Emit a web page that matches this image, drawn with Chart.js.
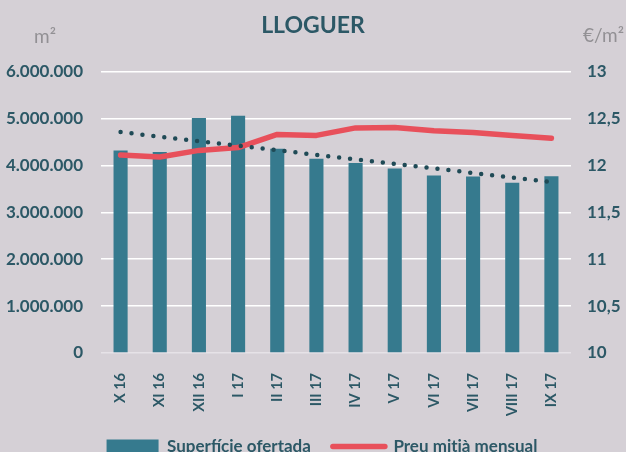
<!DOCTYPE html>
<html>
<head>
<meta charset="utf-8">
<script src="https://cdn.jsdelivr.net/npm/chart.js@4.4.1/dist/chart.umd.min.js"></script>
<style>
  html, body { margin: 0; padding: 0; background: #d5d0d6; overflow: hidden; }
  #wrap { width: 626px; height: 465px; }
</style>
</head>
<body>
<div id="wrap"><canvas id="lloguerChart"></canvas></div>
<script>
const months = ["X 16", "XI 16", "XII 16", "I 17", "II 17", "III 17", "IV 17", "V 17", "VI 17", "VII 17", "VIII 17", "IX 17"];
const surface = [4320000, 4285000, 5010000, 5060000, 4355000, 4140000, 4050000, 3935000, 3785000, 3765000, 3630000, 3770000];
const price = [12.11, 12.09, 12.16, 12.19, 12.33, 12.32, 12.40, 12.405, 12.37, 12.35, 12.32, 12.29];
// linear trend of the surface, start and end
const trendEnds = [4710000, 3645000];

const teal = "#367a8e";
const red = "#e8505b";
const ink = "#2c5866";

const trend = months.map(function (m, i) {
    if (i === 0) return trendEnds[0];
    if (i === months.length - 1) return trendEnds[1];
    return null;
});

// background, unit labels above the axes, legend nudged right a bit
const extras = {
    id: "extras",
    afterLayout: function (chart) {
        if (chart.legend) {
            chart.legend.left += 9;
            chart.legend.right += 9;
        }
    },
    beforeDraw: function (chart) {
        const c = chart.ctx;
        c.save();
        c.fillStyle = "#d5d0d6";
        c.fillRect(0, 0, chart.width, chart.height);
        c.restore();
    },
    afterDraw: function (chart) {
        const c = chart.ctx;
        c.save();
        c.fillStyle = "#929094";
        c.font = "19px Lato";
        c.textBaseline = "alphabetic";
        c.textAlign = "left";
        c.fillText("m²", 34, 43);
        c.fillText("€/m²", 583, 42);
        c.restore();
    }
};

const ctx = document.getElementById("lloguerChart").getContext("2d");

new Chart(ctx, {
    type: "bar",
    data: {
        labels: months,
        datasets: [
            {
                label: "Tendència",
                type: "line",
                data: trend,
                yAxisID: "y",
                spanGaps: true,
                borderColor: "#1f4a56",
                borderWidth: 4.5,
                borderDash: [0, 11],
                borderCapStyle: "round",
                pointRadius: 0,
                fill: false,
                order: 0
            },
            {
                label: "Preu mitjà mensual",
                type: "line",
                data: price,
                yAxisID: "y1",
                borderColor: red,
                backgroundColor: red,
                borderWidth: 5.5,
                borderCapStyle: "round",
                borderJoinStyle: "round",
                pointRadius: 0,
                tension: 0,
                fill: false,
                order: 1
            },
            {
                label: "Superfície ofertada",
                data: surface,
                yAxisID: "y",
                backgroundColor: teal,
                barPercentage: 0.36,
                categoryPercentage: 1,
                order: 2
            }
        ]
    },
    options: {
        responsive: true,
        maintainAspectRatio: false,
        animation: false,
        layout: { padding: { top: 6, left: 0, right: 0, bottom: 0 } },
        scales: {
            x: {
                offset: true,
                afterFit: function (scale) { scale.height = 63; },
                grid: { display: false },
                border: { display: false },
                ticks: {
                    color: ink,
                    font: { family: "Lato", size: 14.5, weight: "bold" },
                    minRotation: 90,
                    maxRotation: 90,
                    padding: 12
                }
            },
            y: {
                position: "left",
                min: 0,
                max: 6000000,
                afterFit: function (scale) { scale.width = 101; },
                border: { display: false },
                grid: {
                    drawTicks: false,
                    lineWidth: 1.5,
                    color: function (c) { return c.tick && c.tick.value === 0 ? "#e6e2e7" : "#ffffff"; }
                },
                ticks: {
                    stepSize: 1000000,
                    padding: 18,
                    color: ink,
                    font: { family: "Lato", size: 17, weight: "bold" },
                    callback: function (v) { return String(v).replace(/\B(?=(\d{3})+(?!\d))/g, "."); }
                }
            },
            y1: {
                position: "right",
                min: 10,
                max: 13,
                afterFit: function (scale) { scale.width = 55; },
                border: { display: false },
                grid: { display: false, drawTicks: false },
                ticks: {
                    stepSize: 0.5,
                    padding: 16,
                    color: ink,
                    font: { family: "Lato", size: 17, weight: "bold" },
                    callback: function (v) { return String(v).replace(".", ","); }
                }
            }
        },
        plugins: {
            title: {
                display: true,
                text: "LLOGUER",
                color: ink,
                font: { family: "Lato", size: 23, weight: "bold" },
                padding: { top: 6, bottom: 32 }
            },
            legend: {
                position: "bottom",
                labels: {
                    color: ink,
                    font: { family: "Lato", size: 17, weight: "bold" },
                    usePointStyle: true,
                    pointStyleWidth: 52,
                    boxHeight: 14,
                    padding: 22,
                    filter: function (item) { return item.datasetIndex !== 0; },
                    generateLabels: function (chart) {
                        const items = Chart.defaults.plugins.legend.labels.generateLabels(chart);
                        items.forEach(function (it) {
                            if (it.datasetIndex === 1) {
                                it.pointStyle = "line";
                                it.lineWidth = 5.5;
                                it.lineCap = "round";
                                it.strokeStyle = red;
                            } else {
                                it.pointStyle = "rect";
                                it.lineWidth = 0;
                            }
                        });
                        return items.reverse();
                    }
                }
            },
            tooltip: { enabled: false }
        }
    },
    plugins: [extras]
});
</script>
</body>
</html>
